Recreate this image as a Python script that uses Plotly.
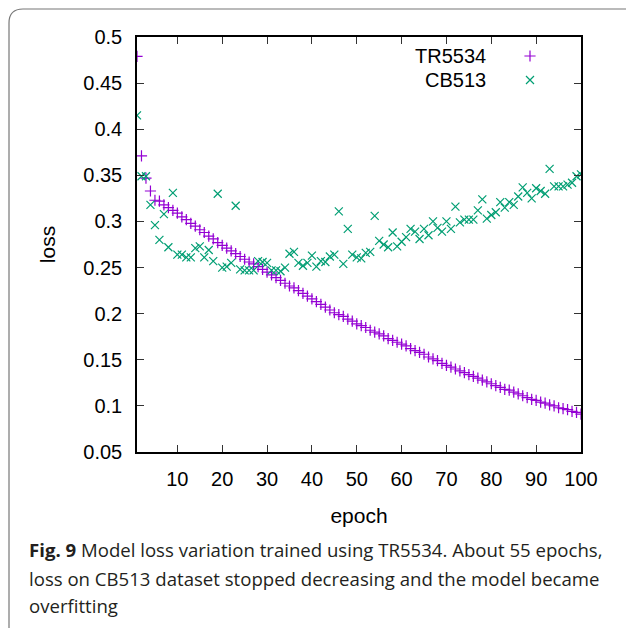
import plotly.graph_objects as go

epochs = list(range(1, 101))

tr5534 = [0.479, 0.371, 0.347, 0.333, 0.323, 0.322, 0.318, 0.315, 0.312, 0.309,
          0.305, 0.302, 0.298, 0.295, 0.291, 0.288, 0.284, 0.281, 0.277, 0.274,
          0.271, 0.268, 0.265, 0.262, 0.259, 0.256, 0.254, 0.251, 0.248, 0.245,
          0.242, 0.239, 0.236, 0.233, 0.230, 0.228, 0.225, 0.222, 0.219, 0.216,
          0.213, 0.210, 0.207, 0.204, 0.201, 0.199, 0.197, 0.194, 0.192, 0.189,
          0.187, 0.185, 0.182, 0.180, 0.178, 0.176, 0.173, 0.171, 0.169, 0.167,
          0.165, 0.162, 0.160, 0.158, 0.156, 0.153, 0.151, 0.149, 0.146, 0.144,
          0.142, 0.140, 0.138, 0.136, 0.134, 0.132, 0.130, 0.128, 0.126, 0.124,
          0.122, 0.120, 0.118, 0.117, 0.115, 0.113, 0.111, 0.109, 0.107, 0.106,
          0.104, 0.103, 0.101, 0.100, 0.098, 0.097, 0.096, 0.094, 0.093, 0.091]

cb513 = [0.415, 0.349, 0.349, 0.318, 0.296, 0.280, 0.308, 0.272, 0.331, 0.264,
         0.264, 0.261, 0.261, 0.271, 0.273, 0.261, 0.269, 0.257, 0.330, 0.250,
         0.251, 0.255, 0.317, 0.248, 0.247, 0.247, 0.247, 0.257, 0.256, 0.255,
         0.247, 0.247, 0.246, 0.250, 0.265, 0.267, 0.255, 0.252, 0.255, 0.263,
         0.251, 0.257, 0.256, 0.262, 0.264, 0.311, 0.254, 0.292, 0.264, 0.261,
         0.260, 0.266, 0.267, 0.306, 0.279, 0.275, 0.272, 0.288, 0.273, 0.278,
         0.283, 0.292, 0.289, 0.281, 0.292, 0.285, 0.300, 0.293, 0.289, 0.300,
         0.292, 0.316, 0.299, 0.302, 0.302, 0.302, 0.312, 0.324, 0.303, 0.307,
         0.310, 0.321, 0.315, 0.321, 0.318, 0.327, 0.337, 0.331, 0.325, 0.336,
         0.333, 0.330, 0.357, 0.338, 0.338, 0.338, 0.340, 0.342, 0.349, 0.351]

x_ticks = [10, 20, 30, 40, 50, 60, 70, 80, 90, 100]
y_ticks = [0.05, 0.1, 0.15, 0.2, 0.25, 0.3, 0.35, 0.4, 0.45, 0.5]
y_tick_labels = ["0.05", "0.1", "0.15", "0.2", "0.25", "0.3", "0.35", "0.4", "0.45", "0.5"]

series_names = ["TR5534", "CB513"]
colors = ["#9400D3", "#009E73"]
symbols = ["cross-thin", "x-thin"]

caption_lines = [
    "<b>Fig. 9</b> Model loss variation trained using TR5534. About 55 epochs,",
    "loss on CB513 dataset stopped decreasing and the model became",
    "overfitting",
]

W, H = 626, 628
L, R, T, B = 137, 45, 37, 176
pw, ph = W - L - R, H - T - B


def px(xp):
    return (xp - L) / pw


def py(yp):
    return (H - B - yp) / ph


FONT = "Liberation Sans, Arial"

fig = go.Figure()
for name, vals, col, sym in zip(series_names, [tr5534, cb513], colors, symbols):
    fig.add_trace(go.Scatter(
        x=epochs, y=vals, mode="markers", name=name, showlegend=False,
        marker=dict(symbol=sym, size=8, color=col, line=dict(color=col, width=1.2)),
    ))

# legend keys (gnuplot style: text then sample)
key_y = [py(56), py(80)]
for name, col, sym, ky in zip(series_names, colors, symbols, key_y):
    fig.add_trace(go.Scatter(
        x=[px(530)], y=[ky], mode="markers", showlegend=False, xaxis="x2", yaxis="y2",
        marker=dict(symbol=sym, size=8, color=col, line=dict(color=col, width=1.2)),
        hoverinfo="skip",
    ))
    fig.add_annotation(x=px(488), y=ky, xref="paper", yref="paper", text=name,
                       showarrow=False, xanchor="right", yanchor="middle",
                       font=dict(family=FONT, size=20, color="#000"))

axis_common = dict(showline=True, linecolor="#000", linewidth=1.5, mirror="ticks",
                   ticks="inside", ticklen=7, tickwidth=1.2, tickcolor="#333",
                   showgrid=False, zeroline=False,
                   tickfont=dict(family=FONT, size=20, color="#000"))

fig.update_layout(
    width=W, height=H,
    margin=dict(l=L, r=R, t=T, b=B),
    paper_bgcolor="white", plot_bgcolor="white",
    xaxis=dict(range=[1, 100], tickvals=x_ticks, ticklabelstandoff=8,
               title=dict(text="epoch", standoff=20,
                          font=dict(family=FONT, size=21, color="#000")),
               **axis_common),
    yaxis=dict(range=[0.05, 0.5], tickvals=y_ticks, ticktext=y_tick_labels, ticklabelstandoff=9,
               title=dict(text="loss", standoff=22,
                          font=dict(family=FONT, size=21, color="#000")),
               **axis_common),
    xaxis2=dict(range=[0, 1], overlaying="x", visible=False, domain=[0, 1]),
    yaxis2=dict(range=[0, 1], overlaying="y", visible=False, domain=[0, 1]),
)

caption_y = [549, 578, 605]
for line, cy in zip(caption_lines, caption_y):
    fig.add_annotation(x=px(27), y=py(cy), xref="paper", yref="paper", text=line,
                       showarrow=False, xanchor="left", yanchor="middle",
                       font=dict(family="Open Sans", size=18.6, color="#231f20"))

# outer frame with rounded top-left corner
rr = 14
path = (f"M {px(9)} {py(640)} L {px(9)} {py(9 + rr)} "
        f"Q {px(9)} {py(9)} {px(9 + rr)} {py(9)} L {px(640)} {py(9)}")
fig.add_shape(type="path", path=path, xref="paper", yref="paper",
              line=dict(color="#777", width=1.2))

fig.write_html("out.html")
